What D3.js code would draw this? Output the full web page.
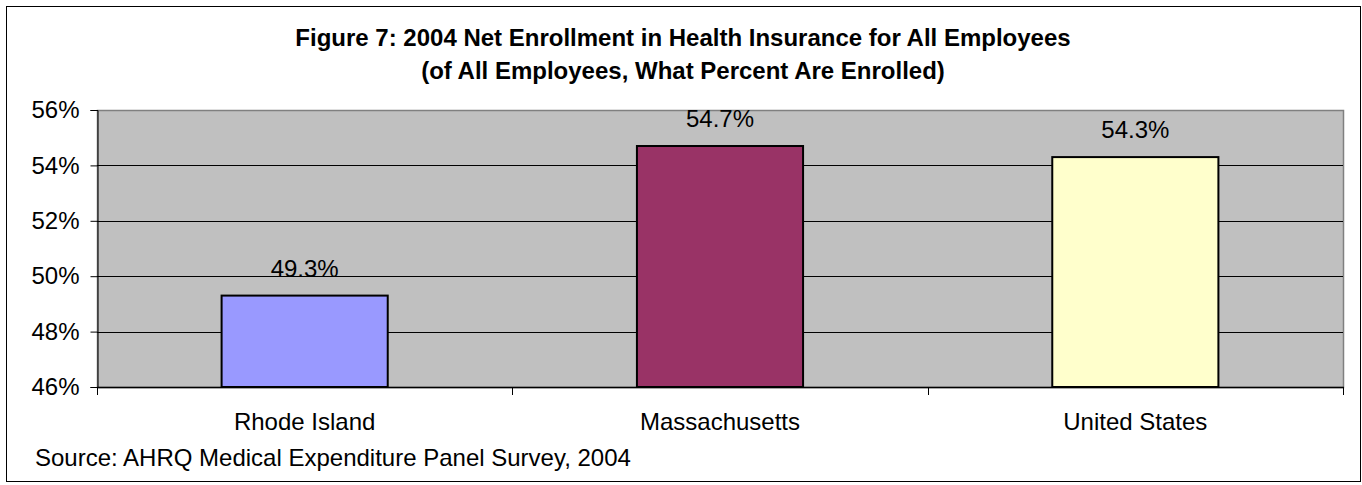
<!DOCTYPE html>
<html>
<head>
<meta charset="utf-8">
<script src="https://cdn.jsdelivr.net/npm/d3@7"></script>
<style>
  html, body { margin: 0; padding: 0; background: #fff; }
  svg { display: block; font-family: Arial, "Liberation Sans", sans-serif; }
</style>
</head>
<body>
<svg id="chart" width="1362" height="485"></svg>
<script>
// Net enrollment by region, 2004
const categories = ["Rhode Island", "Massachusetts", "United States"];
const enrollment = [49.3, 54.7, 54.3];
const barColors = ["#9999ff", "#993366", "#ffffcc"];
const yTicks = [46, 48, 50, 52, 54, 56];
const titleLines = [
  "Figure 7: 2004 Net Enrollment in Health Insurance for All Employees",
  "(of All Employees, What Percent Are Enrolled)"
];
const sourceNote = "Source: AHRQ Medical Expenditure Panel Survey, 2004";

const svg = d3.select("#chart");
const plot = { left: 97, right: 1343, top: 110, bottom: 387 };
const FS = 24;

// outer frame
svg.append("rect")
  .attr("x", 6.5).attr("y", 6.5)
  .attr("width", 1354).attr("height", 475)
  .attr("fill", "#fff").attr("stroke", "#000").attr("stroke-width", 1);

// title
svg.append("g").selectAll("text")
  .data(titleLines).join("text")
  .attr("x", 683)
  .attr("y", (d, i) => 46 + i * 33)
  .attr("text-anchor", "middle")
  .attr("font-weight", "bold")
  .attr("font-size", FS)
  .attr("fill", "#000")
  .text(d => d);

const y = d3.scaleLinear().domain([46, 56]).range([plot.bottom, plot.top]);
const x = d3.scaleBand().domain(categories)
  .range([plot.left, plot.right])
  .paddingInner(0.6).paddingOuter(0.3);
const xSlots = d3.scaleBand().domain(categories)
  .range([plot.left, plot.right]).padding(0);

// plot background
svg.append("rect")
  .attr("x", plot.left + 0.5).attr("y", plot.top + 0.5)
  .attr("width", plot.right - plot.left).attr("height", plot.bottom - plot.top)
  .attr("fill", "#c0c0c0").attr("stroke", "#808080").attr("stroke-width", 1.5);

// horizontal gridlines
svg.append("g").selectAll("line")
  .data(yTicks.slice(1, -1)).join("line")
  .attr("x1", plot.left).attr("x2", plot.right)
  .attr("y1", d => Math.round(y(d)) + 0.5).attr("y2", d => Math.round(y(d)) + 0.5)
  .attr("stroke", "#000").attr("stroke-width", 1);

// bars
svg.append("g").selectAll("rect")
  .data(categories).join("rect")
  .attr("x", d => x(d))
  .attr("y", (d, i) => y(enrollment[i]))
  .attr("width", x.bandwidth())
  .attr("height", (d, i) => y(46) - y(enrollment[i]))
  .attr("fill", (d, i) => barColors[i])
  .attr("stroke", "#000").attr("stroke-width", 2);

// value labels
svg.append("g").selectAll("text")
  .data(categories).join("text")
  .attr("x", d => x(d) + x.bandwidth() / 2)
  .attr("y", (d, i) => y(enrollment[i]) - 19)
  .attr("text-anchor", "middle")
  .attr("font-size", FS)
  .attr("fill", "#000")
  .text((d, i) => enrollment[i].toFixed(1) + "%");

// y axis
const yAxis = d3.axisLeft(y).tickValues(yTicks)
  .tickFormat(d => d + "%").tickSize(7).tickPadding(11);
svg.append("g")
  .attr("transform", `translate(${plot.left + 0.5},0)`)
  .call(yAxis)
  .call(g => g.select(".domain").attr("stroke", "#000"))
  .call(g => g.selectAll(".tick line").attr("stroke", "#000"))
  .call(g => g.selectAll(".tick text")
    .attr("font-size", FS).attr("fill", "#000")
    .attr("font-family", "Arial, 'Liberation Sans', sans-serif"));

// x axis line and slot ticks
const xg = svg.append("g");
xg.append("line")
  .attr("x1", plot.left).attr("x2", plot.right + 1)
  .attr("y1", plot.bottom + 0.5).attr("y2", plot.bottom + 0.5)
  .attr("stroke", "#000").attr("stroke-width", 1.5);
const boundaries = categories.map(c => xSlots(c)).concat([plot.right]);
xg.selectAll("line.tk")
  .data(boundaries).join("line").attr("class", "tk")
  .attr("x1", d => Math.round(d) + 0.5).attr("x2", d => Math.round(d) + 0.5)
  .attr("y1", plot.bottom).attr("y2", plot.bottom + 8)
  .attr("stroke", "#000");

// category labels
xg.selectAll("text")
  .data(categories).join("text")
  .attr("x", d => x(d) + x.bandwidth() / 2)
  .attr("y", 430)
  .attr("text-anchor", "middle")
  .attr("font-size", FS)
  .attr("fill", "#000")
  .text(d => d);

// source note
svg.append("text")
  .attr("x", 35).attr("y", 466)
  .attr("font-size", FS)
  .attr("fill", "#000")
  .text(sourceNote);
</script>
</body>
</html>
